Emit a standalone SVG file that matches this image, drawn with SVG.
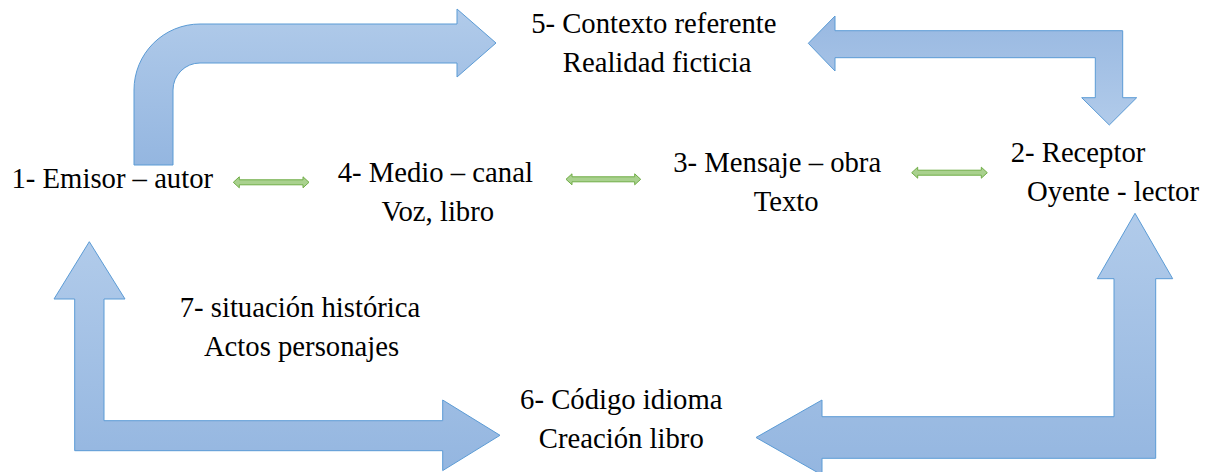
<svg xmlns="http://www.w3.org/2000/svg" width="1214" height="472" viewBox="0 0 1214 472">
  <style>
    text { font-family: "Liberation Serif", "Times New Roman", Times, "DejaVu Serif", serif; font-size: 28.7px; fill: #000000; text-anchor: middle; }
    .big { stroke: #5b9bd5; stroke-width: 1; stroke-linejoin: miter; }
    .g { fill: #a9d18e; stroke: #70ad47; stroke-width: 1; }
  </style>
  <defs>
    <linearGradient id="gDown" x1="0" y1="0" x2="0" y2="1">
      <stop offset="0" stop-color="#b1cbea"/>
      <stop offset="1" stop-color="#94b6e0"/>
    </linearGradient>
    <linearGradient id="gUp" x1="0" y1="0" x2="0" y2="1">
      <stop offset="0" stop-color="#98b8e1"/>
      <stop offset="1" stop-color="#b1cbea"/>
    </linearGradient>
  </defs>
  <rect width="1214" height="472" fill="#ffffff"/>

  <g id="connectors">
    <path class="big" fill="url(#gDown)" d="M134,165 L134,90 A66,66 0 0 1 200,24 L457,24 L457,9 L496,43 L457,77 L457,63 L200,63 A27,27 0 0 0 173,90 L173,165 Z"/>
    <path class="big" fill="url(#gUp)" d="M808.3,43.3 L835,16 L835,30.7 L1122.7,30.7 L1122.7,97.7 L1136.7,97.7 L1109.3,125 L1081.7,97.7 L1095.3,97.7 L1095.3,57.7 L835,57.7 L835,71 Z"/>
    <path class="big" fill="url(#gDown)" d="M89.3,241.7 L125,299 L104,299 L104,420.7 L442.7,420.7 L442.7,400 L500,435.3 L442.7,470.6 L442.7,450.7 L74.7,450.7 L74.7,299 L54,299 Z"/>
    <path class="big" fill="url(#gDown)" d="M1135,213.3 L1172.7,278.7 L1155.7,278.7 L1155.7,458.3 L822,458.3 L822,475 L756,437.5 L822,400 L822,416.7 L1114,416.7 L1114,278.7 L1097.3,278.7 Z"/>
    <path class="g" d="M233.3,182.3 L239.3,176.8 L239.3,179.8 L303,179.8 L303,176.8 L309,182.3 L303,187.8 L303,184.8 L239.3,184.8 L239.3,187.8 Z"/>
    <path class="g" d="M566,179.3 L572,173.8 L572,176.8 L634.7,176.8 L634.7,173.8 L640.7,179.3 L634.7,184.8 L634.7,181.8 L572,181.8 L572,184.8 Z"/>
    <path class="g" d="M911.7,172.7 L917.7,167.2 L917.7,170.2 L981.3,170.2 L981.3,167.2 L987.3,172.7 L981.3,178.2 L981.3,175.2 L917.7,175.2 L917.7,178.2 Z"/>
  </g>

  <g id="node-emisor">
    <text x="112.3" y="188.3" font-family="Liberation Serif, serif">1- Emisor – autor</text>
  </g>
  <g id="node-receptor">
    <text x="1078" y="161.7" font-family="Liberation Serif, serif">2- Receptor</text>
    <text x="1113" y="201" font-family="Liberation Serif, serif">Oyente - lector</text>
  </g>
  <g id="node-mensaje">
    <text x="777.2" y="171.7" font-family="Liberation Serif, serif">3- Mensaje – obra</text>
    <text x="786.2" y="211" font-family="Liberation Serif, serif">Texto</text>
  </g>
  <g id="node-medio">
    <text x="435.3" y="181.7" font-family="Liberation Serif, serif">4- Medio – canal</text>
    <text x="437.8" y="221" font-family="Liberation Serif, serif">Voz, libro</text>
  </g>
  <g id="node-contexto">
    <text x="653.8" y="33" font-family="Liberation Serif, serif">5- Contexto referente</text>
    <text x="657.2" y="71.7" font-family="Liberation Serif, serif">Realidad ficticia</text>
  </g>
  <g id="node-codigo">
    <text x="621.3" y="409.3" font-family="Liberation Serif, serif">6- Código idioma</text>
    <text x="621.3" y="448.3" font-family="Liberation Serif, serif">Creación libro</text>
  </g>
  <g id="node-situacion">
    <text x="300" y="317.3" font-family="Liberation Serif, serif">7- situación histórica</text>
    <text x="301.5" y="356" font-family="Liberation Serif, serif">Actos personajes</text>
  </g>
</svg>
